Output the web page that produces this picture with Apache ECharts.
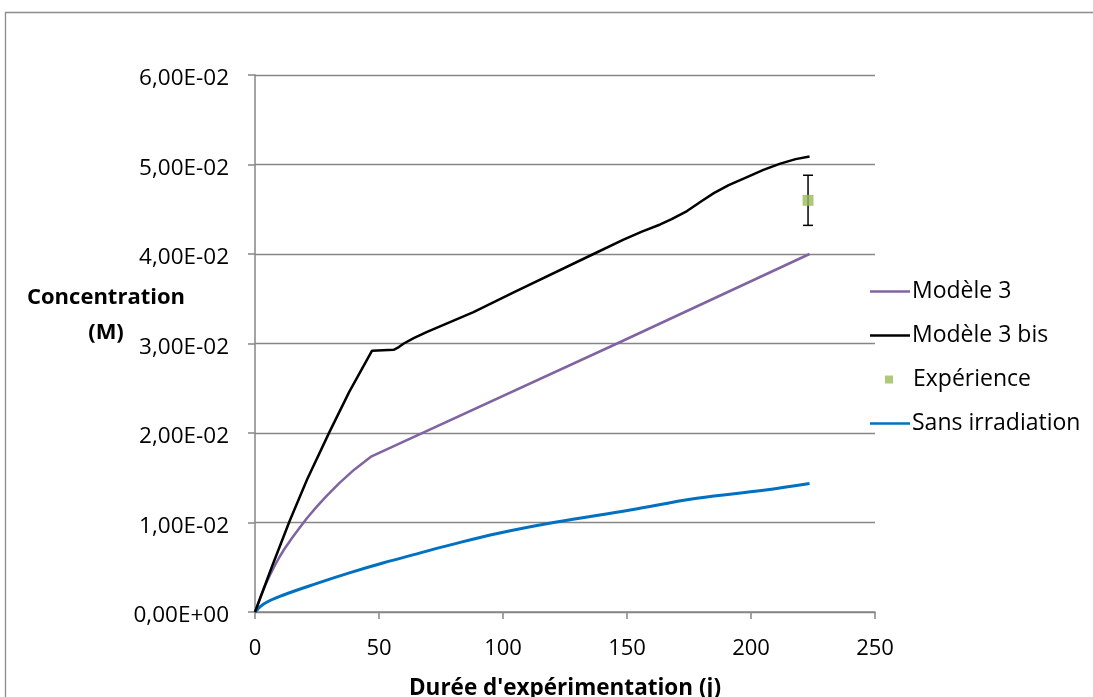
<!DOCTYPE html>
<html>
<head>
<meta charset="utf-8">
<script src="https://cdn.jsdelivr.net/npm/echarts@6/dist/echarts.min.js"></script>
<style>
html,body{margin:0;padding:0;background:#fff;}
#chart{width:1093px;height:697px;}
</style>
</head>
<body>
<div id="chart"></div>
<script>
// ---- data ----
const seriesNames = ['Modèle 3', 'Modèle 3 bis', 'Expérience', 'Sans irradiation'];

const m3X = [0, 2, 4, 6, 8, 10, 12, 15, 18, 21, 25, 29, 34, 40, 47, 146, 223.6];
const m3Y = [0, 0.0015, 0.0029, 0.0041, 0.0052, 0.0062, 0.0071, 0.0083, 0.0094, 0.0105, 0.0118, 0.0130, 0.0144, 0.0159, 0.0174, 0.0300, 0.0400];

const m3bisX = [0, 7, 14, 21, 30, 38, 47.2, 55.9, 58, 60, 64, 69.4, 88.1, 104.3, 136.5, 148.6, 156, 163.4, 168, 174.2, 180, 185, 191, 198.4, 205, 211.8, 218, 223.6];
const m3bisY = [0, 0.0052, 0.0102, 0.0148, 0.0201, 0.0246, 0.0292, 0.0293, 0.0296, 0.0300, 0.0306, 0.0313, 0.0335, 0.0357, 0.0400, 0.0416, 0.0425, 0.0433, 0.0439, 0.0448, 0.0459, 0.0468, 0.0477, 0.0486, 0.0494, 0.0501, 0.0506, 0.0509];

const expX = [223];
const expY = [0.0460];
const expErr = [0.0028];

const sansX = [0, 3.5, 11.5, 25, 38.4, 51.9, 65.3, 78.8, 98.2, 120.4, 151.3, 178.2, 205.1, 223.6];
const sansY = [0, 0.0009, 0.0019, 0.0032, 0.0044, 0.0055, 0.0065, 0.0075, 0.0088, 0.0100, 0.0114, 0.0127, 0.0136, 0.01435];

const yTickLabels = ['0,00E+00', '1,00E-02', '2,00E-02', '3,00E-02', '4,00E-02', '5,00E-02', '6,00E-02'];
const xTickLabels = ['0', '50', '100', '150', '200', '250'];

const xTitle = "Durée d'expérimentation (j)";
const yTitle = 'Concentration\n(M)';

// ---- build ----
const zip = (xs, ys) => xs.map((x, i) => [x, ys[i]]);
const FONT = '"Open Sans", "DejaVu Sans", sans-serif';
const GRAY = '#868686';
const colors = { m3: '#8064A2', m3bis: '#000000', exp: '#9BBB59', sans: '#0070C0' };

const chart = echarts.init(document.getElementById('chart'), null, { renderer: 'canvas' });

function legendFor(name, top, opts) {
  return Object.assign({
    data: [name],
    orient: 'vertical',
    left: 865,
    top: top,
    icon: 'rect',
    itemWidth: 40,
    itemHeight: 2.5,
    textStyle: { fontFamily: FONT, fontSize: 23, color: '#000', padding: [0, 0, 0, -3] },
    selectedMode: false
  }, opts || {});
}

const option = {
  animation: false,
  backgroundColor: '#fff',
  textStyle: { fontFamily: FONT },
  grid: { left: 255, right: 218, top: 75, bottom: 85, containLabel: false, outerBoundsMode: 'none' },
  legend: [
    legendFor(seriesNames[0], 275),
    legendFor(seriesNames[1], 319),
    legendFor(seriesNames[2], 363, { left: 880, itemWidth: 8, itemHeight: 8,
      textStyle: { fontFamily: FONT, fontSize: 23, color: '#000', padding: [0, 0, 0, 15] } }),
    legendFor(seriesNames[3], 407)
  ],
  xAxis: {
    type: 'value', min: 0, max: 250, interval: 50,
    name: xTitle, nameLocation: 'middle', nameGap: 65,
    nameTextStyle: { fontFamily: FONT, fontSize: 22.5, fontWeight: 'bold', color: '#000' },
    axisLine: { show: true, onZero: false, lineStyle: { color: GRAY, width: 1.5 } },
    axisTick: { show: true, inside: false, length: 7, lineStyle: { color: GRAY, width: 1.5 } },
    splitLine: { show: false },
    axisLabel: {
      fontFamily: FONT, fontSize: 22, color: '#000', margin: 26,
      formatter: v => xTickLabels[Math.round(v / 50)]
    }
  },
  yAxis: {
    type: 'value', min: 0, max: 0.06, interval: 0.01,
    axisLine: { show: true, lineStyle: { color: GRAY, width: 1.5 } },
    axisTick: { show: true, inside: false, length: 7, lineStyle: { color: GRAY, width: 1.5 } },
    splitLine: { show: true, lineStyle: { color: GRAY, width: 1.3 } },
    axisLabel: {
      fontFamily: FONT, fontSize: 22.5, color: '#000', margin: 26,
      formatter: v => '{t|' + yTickLabels[Math.round(v / 0.01)] + '}',
      rich: { t: { fontFamily: FONT, fontSize: 22.5, color: '#000', padding: [8, 0, 0, 0] } }
    }
  },
  graphic: [
    { type: 'rect', left: 3, top: 10, shape: { x: 0, y: 0, width: 1200, height: 800 },
      style: { fill: 'none', stroke: '#8c8c8c', lineWidth: 1.3 }, silent: true, z: -10 },
    { type: 'text', x: 106, y: 280,
      style: { text: yTitle, fontFamily: FONT, fontSize: 22, fontWeight: 'bold', fill: '#000',
               textAlign: 'center', lineHeight: 35 } }
  ],
  series: [
    { name: seriesNames[0], type: 'line', data: zip(m3X, m3Y), symbol: 'none', showSymbol: false,
      lineStyle: { color: colors.m3, width: 2.5 }, itemStyle: { color: colors.m3 }, z: 3 },
    { name: seriesNames[1], type: 'line', data: zip(m3bisX, m3bisY), symbol: 'none', showSymbol: false,
      lineStyle: { color: colors.m3bis, width: 2.5 }, itemStyle: { color: colors.m3bis }, z: 4 },
    { name: 'errbar', type: 'custom', z: 5,
      data: expX.map((x, i) => [x, expY[i] - expErr[i], expY[i] + expErr[i]]),
      renderItem: function (params, api) {
        const lo = api.coord([api.value(0), api.value(1)]);
        const hi = api.coord([api.value(0), api.value(2)]);
        const w = 5;
        const st = { stroke: '#000', lineWidth: 1.5 };
        return { type: 'group', children: [
          { type: 'line', shape: { x1: lo[0], y1: lo[1], x2: hi[0], y2: hi[1] }, style: st },
          { type: 'line', shape: { x1: lo[0] - w, y1: lo[1], x2: lo[0] + w, y2: lo[1] }, style: st },
          { type: 'line', shape: { x1: hi[0] - w, y1: hi[1], x2: hi[0] + w, y2: hi[1] }, style: st }
        ]};
      }
    },
    { name: seriesNames[2], type: 'scatter', data: zip(expX, expY), symbol: 'rect', symbolSize: 11,
      itemStyle: { color: colors.exp }, z: 6 },
    { name: seriesNames[3], type: 'line', data: zip(sansX, sansY), symbol: 'none', showSymbol: false,
      smooth: 0.4,
      lineStyle: { color: colors.sans, width: 3 }, itemStyle: { color: colors.sans }, z: 3 }
  ]
};
chart.setOption(option);
</script>
</body>
</html>
